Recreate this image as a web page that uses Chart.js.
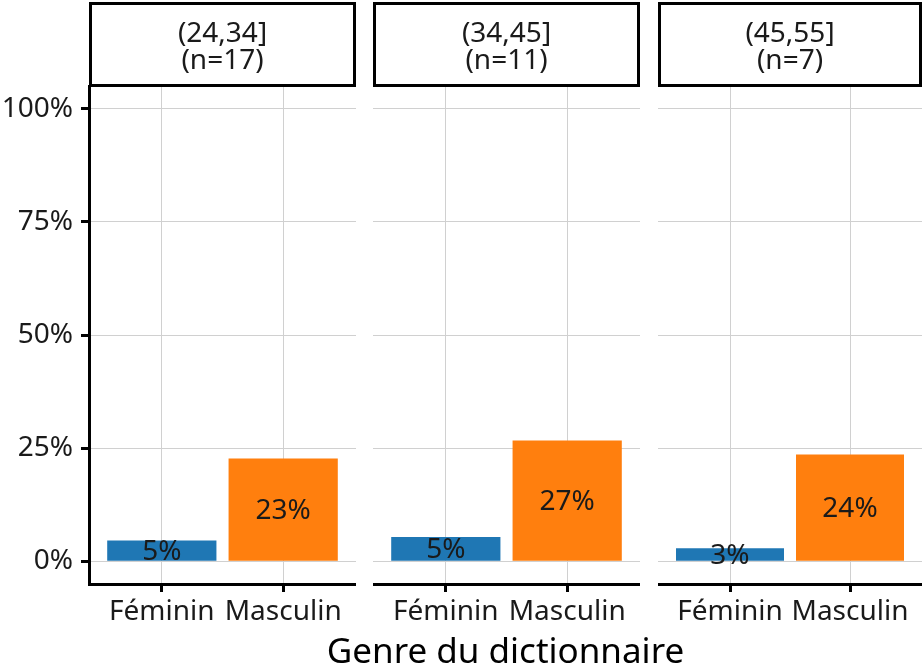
<!DOCTYPE html>
<html>
<head>
<meta charset="utf-8">
<script src="https://cdn.jsdelivr.net/npm/chart.js@4"></script>
<style>
  body { margin: 0; background: #fff; width: 922px; height: 665px; position: relative; overflow: hidden; }
  canvas { position: absolute; top: 0; }
  #xtitle { position: absolute; left: 89px; width: 833px; top: 626px; text-align: center; line-height: 40px;
    font: 35px "Noto Sans", sans-serif; color: #000; }
</style>
</head>
<body>
<canvas id="p1" width="356" height="665" style="left:0"></canvas>
<canvas id="p2" width="267" height="665" style="left:373px"></canvas>
<canvas id="p3" width="264" height="665" style="left:658px"></canvas>
<div id="xtitle">Genre du dictionnaire</div>
<script>
const genres = ['Féminin', 'Masculin'];
const facets = ['(24,34]', '(34,45]', '(45,55]'];
const counts = [17, 11, 7];
const feminin = [4.6, 5.4, 2.9];
const masculin = [22.7, 26.7, 23.6];
const yTicks = [0, 25, 50, 75, 100];
const colors = ['#1f77b4', '#ff7f0e'];

const FONT = '"Noto Sans", sans-serif';
const FS = 28;

const stripPlugin = {
  id: 'strip',
  afterDraw(chart, args, opts) {
    const {ctx, chartArea} = chart;
    ctx.save();
    ctx.lineWidth = 3;
    ctx.strokeStyle = '#000';
    ctx.strokeRect(chartArea.left + 1.5, 3.5, chartArea.right - chartArea.left - 3, chartArea.top - 4);
    ctx.fillStyle = '#1a1a1a';
    ctx.font = FS + 'px ' + FONT;
    ctx.textAlign = 'center';
    ctx.textBaseline = 'middle';
    const cx = (chartArea.left + chartArea.right) / 2;
    ctx.fillText(opts.lines[0], cx, 34);
    ctx.fillText(opts.lines[1], cx, 61);
    ctx.restore();
  }
};

const labelPlugin = {
  id: 'barLabels',
  afterDatasetsDraw(chart) {
    const {ctx} = chart;
    const y = chart.scales.y;
    const meta = chart.getDatasetMeta(0);
    ctx.save();
    ctx.fillStyle = '#1a1a1a';
    ctx.font = FS + 'px ' + FONT;
    ctx.textAlign = 'center';
    ctx.textBaseline = 'middle';
    chart.data.datasets[0].data.forEach((d, i) => {
      ctx.fillText(Math.round(d.y) + '%', meta.data[i].x, y.getPixelForValue(d.y / 2) + 1);
    });
    ctx.restore();
  }
};

function makePanel(id, k) {
  const first = k === 0;
  return new Chart(document.getElementById(id), {
    type: 'bar',
    data: {
      datasets: [{
        data: [{x: 1, y: feminin[k]}, {x: 2, y: masculin[k]}],
        backgroundColor: colors,
        barPercentage: 0.9,
        categoryPercentage: 1
      }]
    },
    options: {
      responsive: false,
      animation: false,
      events: [],
      layout: {padding: {top: 86, left: 0, right: 0, bottom: 0}},
      plugins: {
        legend: {display: false},
        tooltip: {enabled: false},
        strip: {lines: [facets[k], '(n=' + counts[k] + ')']}
      },
      scales: {
        x: {
          type: 'linear',
          min: 0.4,
          max: 2.6,
          offset: false,
          afterBuildTicks: s => { s.ticks = [{value: 1}, {value: 2}]; },
          afterFit: s => { s.height = 81; },
          ticks: {
            callback: v => genres[v - 1],
            color: '#1a1a1a',
            font: {family: FONT, size: FS},
            padding: 3,
            maxRotation: 0,
            autoSkip: false
          },
          grid: {offset: false, color: '#d0d0d0', lineWidth: 1, tickColor: '#000', tickLength: 8, tickWidth: 3},
          border: {display: true, color: '#000', width: 3}
        },
        y: {
          min: -5,
          max: 105,
          afterBuildTicks: s => { s.ticks = yTicks.map(v => ({value: v})); },
          afterFit: s => { s.width = first ? 89 : 0; },
          ticks: {
            display: first,
            callback: v => v + '%',
            color: '#1a1a1a',
            font: {family: FONT, size: FS},
            padding: 8
          },
          grid: {color: '#d0d0d0', lineWidth: 1, drawTicks: first, tickColor: '#000', tickLength: 8, tickWidth: 3},
          border: {display: first, color: '#000', width: 3}
        }
      }
    },
    plugins: [stripPlugin, labelPlugin]
  });
}

makePanel('p1', 0);
makePanel('p2', 1);
makePanel('p3', 2);
</script>
</body>
</html>
